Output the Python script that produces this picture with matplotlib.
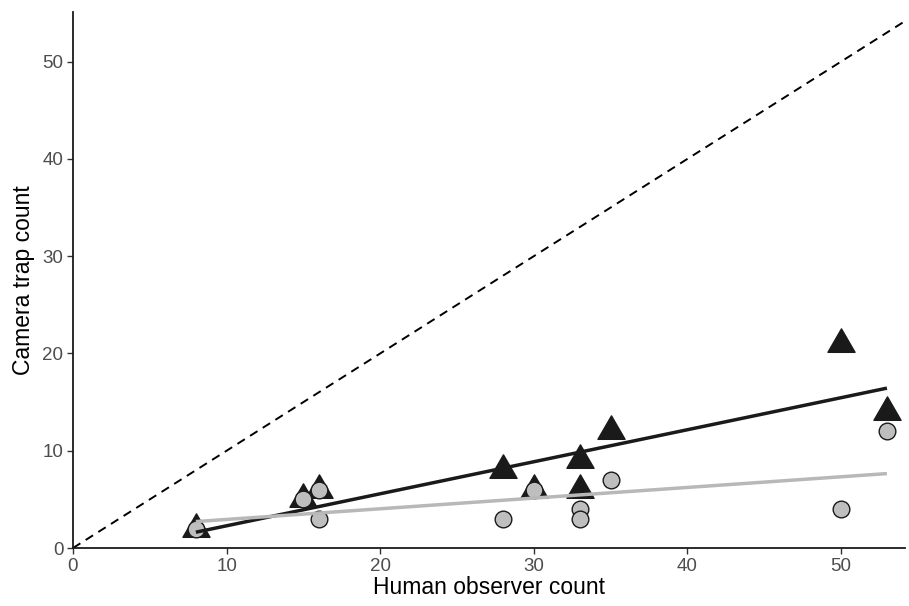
import numpy as np
import matplotlib.pyplot as plt
from matplotlib.path import Path

plt.rcParams['font.family'] = ['Liberation Sans', 'DejaVu Sans']

# human observer counts vs camera trap counts (two groups)
tri_x = [8, 15, 16, 28, 30, 33, 33, 35, 50, 53]
tri_y = [2, 5, 6, 8, 6, 9, 6, 12, 21, 14]
circ_x = [8, 15, 16, 16, 28, 30, 33, 33, 35, 50, 53]
circ_y = [2, 5, 6, 3, 3, 6, 4, 3, 7, 4, 12]

xticks = [0, 10, 20, 30, 40, 50]
yticks = [0, 10, 20, 30, 40, 50]

# triangle with its centroid at the origin (like R's pch 17)
tri_marker = Path([(0, 0.577), (-0.5, -0.289), (0.5, -0.289), (0, 0.577)],
                  [Path.MOVETO, Path.LINETO, Path.LINETO, Path.CLOSEPOLY])

fig = plt.figure(figsize=(9.09, 6.06), dpi=100)
ax = fig.add_axes([0.0803, 0.0957, 0.9157, 0.8843])

xmax, ymax = 54.2, 55.1
ax.plot([0, 60], [0, 60], ls=(0, (4.5, 3.2)), color="black", lw=1.4, zorder=1)

ax.plot(tri_x, tri_y, ls="none", marker=tri_marker, ms=22.5,
        color="#1a1a1a", zorder=2)
ax.plot(circ_x, circ_y, ls="none", marker="o", ms=12, mfc="#bebebe",
        mec="#1a1a1a", mew=1.0, zorder=3)

# linear fits
for xs, ys, col in [(tri_x, tri_y, "#1a1a1a"), (circ_x, circ_y, "#b8b8b8")]:
    b, a = np.polyfit(xs, ys, 1)
    xf = np.array([min(xs), max(xs)])
    ax.plot(xf, a + b * xf, color=col, lw=2.5, solid_capstyle="butt", zorder=4)

ax.set_xlim(0, xmax)
ax.set_ylim(0, ymax)
ax.set_xticks(xticks)
ax.set_yticks(yticks)
for s in ["top", "right"]:
    ax.spines[s].set_visible(False)
for s in ["left", "bottom"]:
    ax.spines[s].set_linewidth(1.3)
    ax.spines[s].set_color("#1a1a1a")
ax.tick_params(length=4, width=1, color="#333333", labelcolor="#4d4d4d",
               labelsize=13.5, pad=3)
ax.set_xlabel("Human observer count", fontsize=16.5, labelpad=1)
ax.set_ylabel("Camera trap count", fontsize=16.5, labelpad=5)

fig.savefig("out.png", dpi=100)
